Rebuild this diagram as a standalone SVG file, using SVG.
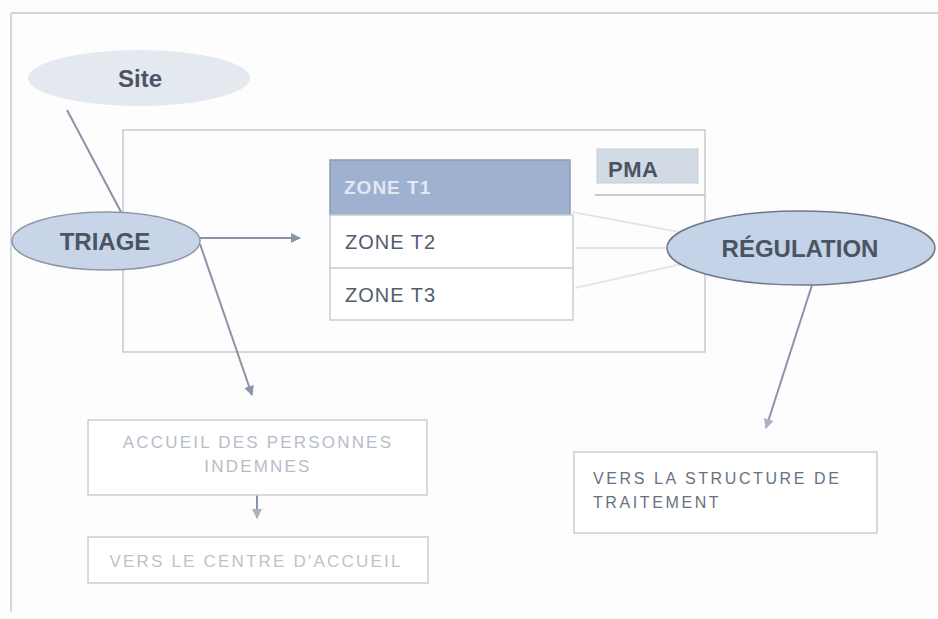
<svg xmlns="http://www.w3.org/2000/svg" width="938" height="619" viewBox="0 0 938 619">
  <defs>
    <style>
      .frame { fill: none; stroke: #c4c9d2; stroke-width: 1.5; }
      .box { fill: #ffffff; stroke: #c9ced6; stroke-width: 1.5; }
      .link { fill: none; stroke: #8a93a8; stroke-width: 2; }
      .faint { fill: none; stroke: #e2e6ec; stroke-width: 2; }
      .lbl-bold { font-family: "Liberation Sans", Arial, sans-serif; font-weight: bold; fill: #4a5462; }
      .lbl { font-family: "Liberation Sans", Arial, sans-serif; fill: #535d6b; font-size: 20px; letter-spacing: 1px; }
      .lbl-pale { font-family: "Liberation Sans", Arial, sans-serif; fill: #b6bdc9; font-size: 17px; letter-spacing: 2.2px; }
      .lbl-mid { font-family: "Liberation Sans", Arial, sans-serif; fill: #68727f; font-size: 16px; letter-spacing: 2.6px; }
    </style>
    <marker id="arrow" viewBox="0 0 10 10" refX="9" refY="5" markerWidth="5" markerHeight="5" orient="auto-start-reverse">
      <path d="M0,0 L10,5 L0,10 z" fill="#8a93a8"/>
    </marker>
    <marker id="arrow-pale" viewBox="0 0 10 10" refX="9" refY="5" markerWidth="5" markerHeight="5" orient="auto-start-reverse">
      <path d="M0,0 L10,5 L0,10 z" fill="#a9b3c4"/>
    </marker>
  </defs>

  <rect width="938" height="619" fill="#fdfdfe"/>

  <!-- outer frame -->
  <path class="frame" d="M11,13 H938 M11,13 V612"/>
  <!-- PMA perimeter -->
  <rect class="frame" x="123" y="130" width="582" height="222"/>

  <!-- connectors -->
  <g id="connectors">
    <line class="link" x1="67" y1="110" x2="121" y2="212"/>
    <line class="link" x1="200" y1="238" x2="300" y2="238" marker-end="url(#arrow)"/>
    <line class="link" x1="200" y1="244" x2="252" y2="395" marker-end="url(#arrow)"/>
    <line class="faint" x1="572" y1="212" x2="690" y2="234"/>
    <line class="faint" x1="575" y1="248" x2="667" y2="248"/>
    <line class="faint" x1="575" y1="288" x2="682" y2="264"/>
    <line class="link" x1="812" y1="285" x2="766" y2="428" stroke="#a9b3c4" marker-end="url(#arrow-pale)"/>
    <line class="link" x1="257" y1="495" x2="257" y2="518" stroke="#a9b3c4" marker-end="url(#arrow-pale)"/>
    <line x1="595" y1="195" x2="705" y2="195" stroke="#b3bac6" stroke-width="1.5"/>
  </g>

  <g id="site">
    <ellipse cx="139" cy="78" rx="111" ry="28" fill="#e4e9f0"/>
    <text class="lbl-bold" x="140" y="87" font-size="24" text-anchor="middle">Site</text>
  </g>

  <g id="triage">
    <ellipse cx="106" cy="241" rx="94" ry="29" fill="#c8d5e8" stroke="#8d96a5" stroke-width="1.5"/>
    <text class="lbl-bold" x="105" y="250" font-size="24" text-anchor="middle">TRIAGE</text>
  </g>

  <g id="zones">
    <rect x="330" y="160" width="240" height="55" fill="#9fb1d1" stroke="#8e9bb2" stroke-width="1.5"/>
    <text class="lbl-bold" x="344" y="194" font-size="19" style="fill:#e2e8f1" letter-spacing="1">ZONE T1</text>
    <rect class="box" x="330" y="215" width="243" height="53"/>
    <text class="lbl" x="345" y="249">ZONE T2</text>
    <rect class="box" x="330" y="268" width="243" height="52"/>
    <text class="lbl" x="345" y="302">ZONE T3</text>
  </g>

  <g id="pma">
    <rect x="597" y="149" width="101" height="34" fill="#d2dae6" stroke="#c4ccd8"/>
    <text class="lbl-bold" x="608" y="177" font-size="22" letter-spacing="0.5">PMA</text>
  </g>

  <g id="regulation">
    <ellipse cx="801" cy="248" rx="134" ry="37" fill="#c4d3e8" stroke="#6d7888" stroke-width="1.5"/>
    <text class="lbl-bold" x="800" y="257" font-size="24" text-anchor="middle">RÉGULATION</text>
  </g>

  <g id="accueil">
    <rect class="box" x="88" y="420" width="339" height="75" stroke="#d6dae1"/>
    <text class="lbl-pale" x="258" y="448" text-anchor="middle">ACCUEIL DES PERSONNES</text>
    <text class="lbl-pale" x="258" y="472" text-anchor="middle">INDEMNES</text>
  </g>

  <g id="centre-accueil">
    <rect class="box" x="88" y="537" width="340" height="46" stroke="#c3c9d3" stroke-width="2"/>
    <text class="lbl-pale" x="256" y="567" text-anchor="middle" style="fill:#bcc3ce">VERS LE CENTRE D'ACCUEIL</text>
  </g>

  <g id="structure">
    <rect class="box" x="574" y="452" width="303" height="81" stroke="#cdd2da" stroke-width="2"/>
    <text class="lbl-mid" x="593" y="484">VERS LA STRUCTURE DE</text>
    <text class="lbl-mid" x="593" y="508">TRAITEMENT</text>
  </g>
</svg>
